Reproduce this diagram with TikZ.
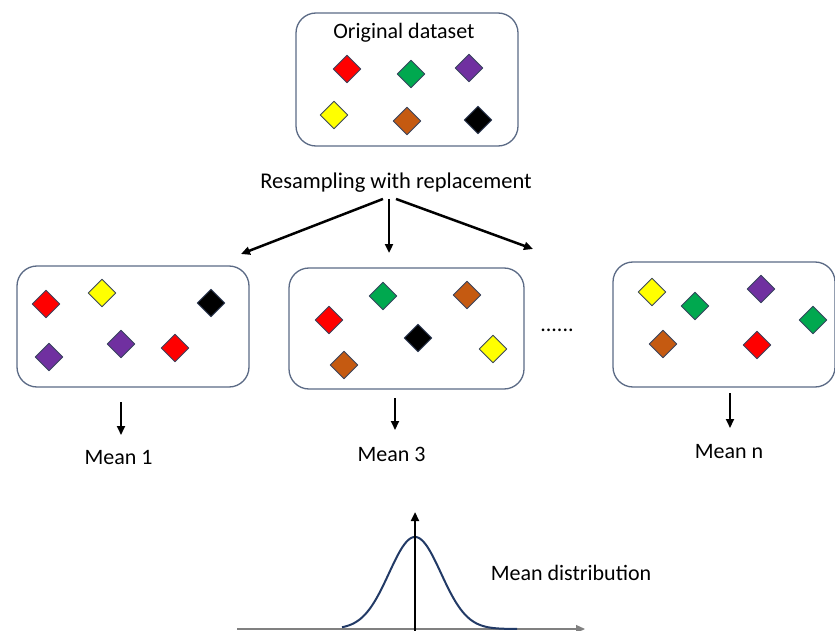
\documentclass[tikz,border=0pt]{standalone}
\usepackage{fontspec}
\setmainfont{Carlito}
\usetikzlibrary{shapes.geometric,arrows.meta}
\definecolor{boxline}{HTML}{5B6A85}
\definecolor{gemline}{HTML}{3A4660}
\definecolor{curve}{HTML}{223A66}
\definecolor{cred}{HTML}{FF0000}
\definecolor{cgreen}{HTML}{00A84F}
\definecolor{cpurple}{HTML}{7030A0}
\definecolor{cyellow}{HTML}{FFFF00}
\definecolor{cbrown}{HTML}{C55A11}
\definecolor{cblack}{HTML}{000000}
\begin{document}
\begin{tikzpicture}[x=1pt, y=-1pt, font=\fontsize{22}{26}\selectfont, line join=round, >={Triangle[length=9pt,width=8pt]},
	setbox/.style={draw=boxline, line width=1.3pt, rounded corners=20pt, inner sep=0pt},
	gem/.style={diamond, draw=gemline, line width=0.9pt, fill=#1, minimum size=28pt, inner sep=0pt},
	lbl/.style={inner sep=0pt}]
		\useasboundingbox (0,0) rectangle (835,631);
		%\draw[color=gray!50,dashed] (0,0) grid[step=50] (835,631);
		\node[setbox, minimum width=222pt, minimum height=133pt] (orig) at (407,79.5) {};
		\node[setbox, minimum width=232pt, minimum height=121pt] (set1) at (133,326.5) {};
		\node[setbox, minimum width=235pt, minimum height=121pt] (set2) at (406.5,328.5) {};
		\node[setbox, minimum width=222pt, minimum height=125pt] (set3) at (724,324.5) {};
		\node[lbl] (origlbl) at (404,33) {Original dataset};
		\foreach \c/\x/\y [count=\i] in {cred/347/69, cgreen/411/74, cpurple/469/68, cyellow/334/115, cbrown/407/121, cblack/478/120}
			\node[gem=\c] (o\i) at (\x,\y) {};
		\foreach \c/\x/\y [count=\i] in {cred/46/304, cyellow/102/293, cblack/211/303, cpurple/49/357, cpurple/121/344, cred/175/348}
			\node[gem=\c] (a\i) at (\x,\y) {};
		\foreach \c/\x/\y [count=\i] in {cgreen/383/296, cbrown/467/295, cred/329/320, cblack/418/338, cyellow/493/349, cbrown/344/365}
			\node[gem=\c] (b\i) at (\x,\y) {};
		\foreach \c/\x/\y [count=\i] in {cyellow/652/292, cgreen/695/306, cpurple/761/289, cgreen/813/320, cbrown/663/344, cred/757/345}
			\node[gem=\c] (c\i) at (\x,\y) {};
		\node[lbl, font=\fontsize{22.5}{26}\selectfont] (resamp) at (396,183) {Resampling with replacement};
		\coordinate (tipL) at (241,254);
		\coordinate (tipM) at (389,253);
		\coordinate (tipR) at (533,249);
		\draw[->, line width=2.5pt] ([xshift=-13pt,yshift=-6pt]resamp.south) -- (tipL);
		\draw[->, line width=2.5pt] ([xshift=-7pt,yshift=-6pt]resamp.south) -- (tipM);
		\draw[->, line width=2.5pt] ([xshift=0pt,yshift=-6pt]resamp.south) -- (tipR);
		\node[lbl] (dots) at (557,330) {......};
		\node[lbl] (mean1) at (118.5,457.5) {Mean 1};
		\node[lbl] (mean3) at (391.5,454.5) {Mean 3};
		\node[lbl] (meann) at (729,452) {Mean n};
		\coordinate (m1a) at (121,402); \coordinate (m1b) at (121,435);
		\coordinate (m3a) at (395,398); \coordinate (m3b) at (395,430);
		\coordinate (mna) at (730,393); \coordinate (mnb) at (730,428);
		\foreach \s/\e in {m1a/m1b, m3a/m3b, mna/mnb} \draw[->, line width=2pt] (\s) -- (\e);
		\coordinate (ax0) at (237,629); \coordinate (ax1) at (585,629);
		\coordinate (ay0) at (415,631); \coordinate (ay1) at (415,512);
		\draw[->, gray, line width=1.2pt] (ax0) -- (ax1);
		\draw[curve, line width=2pt, samples=150, smooth, variable=\x] plot[domain=342:517] (\x,{629-92*exp(-((\x-415)/26)^2/2)});
		\draw[->, line width=2.5pt] (ay0) -- (ay1);
		\node[lbl] (meandist) at (571,573) {Mean distribution};
	\end{tikzpicture}
\end{document}
